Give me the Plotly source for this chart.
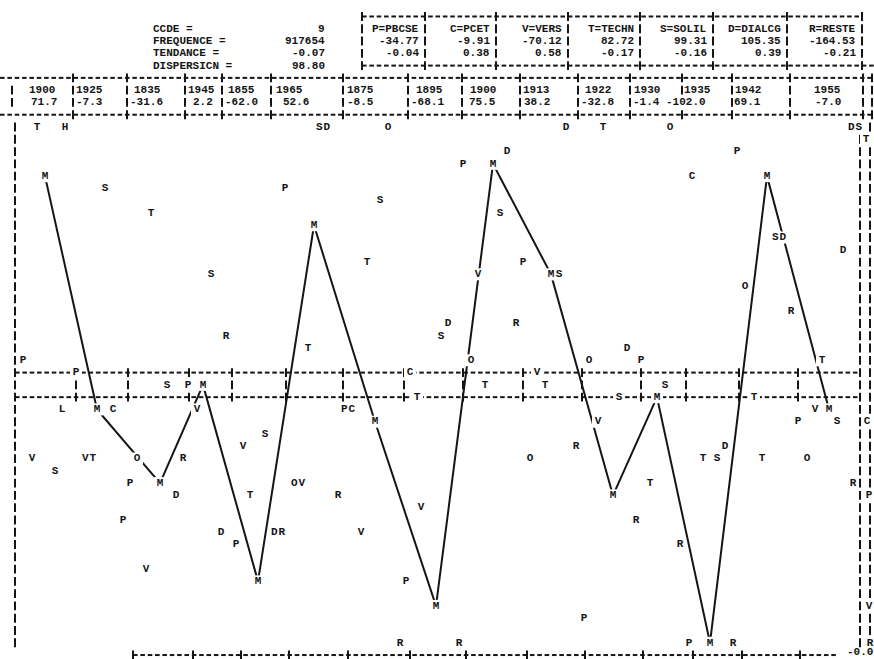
import plotly.graph_objects as go

# ---------------- values ----------------
header_labels = ["CCDE =", "FREQUENCE =", "TENDANCE =", "DISPERSICN ="]
header_values = ["9", "917654", "-0.07", "98.80"]

box_names = ["P=PBCSE", "C=PCET", "V=VERS", "T=TECHN", "S=SOLIL", "D=DIALCG", "R=RESTE"]
box_values = ["-34.77", "-9.91", "-70.12", "82.72", "99.31", "105.35", "-164.53"]
box_tendance = ["-0.04", "0.38", "0.58", "-0.17", "-0.16", "0.39", "-0.21"]

years = ["1900", "1925", "1835", "1945", "1855", "1965", "1875", "1895",
         "1900", "1913", "1922", "1930", "1935", "1942", "1955"]
year_values = [71.7, -7.3, -31.6, 2.2, -62.0, 52.6, -8.5, -68.1,
               75.5, 38.2, -32.8, -1.4, -102.0, 69.1, -7.0]

# M series: print column position and print line of each M
m_pos = [45, 97, 160, 203, 258, 314, 375, 436, 493, 551, 613, 657, 710, 767, 829]
m_rows = [4, 23, 29, 21, 37, 8, 24, 39, 3, 12, 30, 22, 42, 4, 23]

# other letters: text, print column position, print line
letter_text = ["T", "H", "SD", "O", "D", "T", "O", "DS",
               "T",
               "D", "P",
               "P",
               "C",
               "S", "P",
               "S",
               "T", "S",
               "SD",
               "D",
               "T", "P",
               "S", "V", "S",
               "O",
               "R",
               "D", "R",
               "R", "S",
               "T", "D",
               "P", "O", "O", "P", "T",
               "P", "C", "V",
               "S", "P", "T", "T", "S",
               "T", "S", "T",
               "L", "C", "V", "PC", "V",
               "V", "P", "S", "C",
               "S",
               "V", "R", "D",
               "V", "VT", "O", "R", "O", "T", "S", "T", "O",
               "S",
               "P", "OV", "T", "R",
               "D", "T", "R", "P",
               "V",
               "P", "R",
               "D", "DR", "V",
               "P", "R",
               "V",
               "P",
               "V",
               "P",
               "R", "R", "P", "R", "R"]
letter_pos = [37, 65, 323, 388, 566, 603, 670, 855,
              866,
              507, 737,
              463,
              692,
              105, 285,
              380,
              151, 500,
              779,
              843,
              367, 523,
              211, 478, 559,
              745,
              791,
              448, 516,
              226, 441,
              308, 627,
              23, 471, 589, 641, 822,
              76, 410, 537,
              167, 188, 485, 545, 665,
              417, 619, 754,
              62, 113, 197, 348, 815,
              598, 798, 837, 867,
              265,
              243, 576, 725,
              32, 89, 137, 183, 530, 703, 717, 762, 807,
              55,
              130, 298, 650, 853,
              176, 250, 338, 869,
              421,
              123, 636,
              221, 278, 361,
              236, 680,
              146,
              406,
              869,
              584,
              400, 459, 689, 733, 870]
letter_rows = [0, 0, 0, 0, 0, 0, 0, 0,
               1,
               2, 2,
               3,
               4,
               5, 5,
               6,
               7, 7,
               9,
               10,
               11, 11,
               12, 12, 12,
               13,
               15,
               16, 16,
               17, 17,
               18, 18,
               19, 19, 19, 19, 19,
               20, 20, 20,
               21, 21, 21, 21, 21,
               22, 22, 22,
               23, 23, 23, 23, 23,
               24, 24, 24, 24,
               25,
               26, 26, 26,
               27, 27, 27, 27, 27, 27, 27, 27, 27,
               28,
               29, 29, 29, 29,
               30, 30, 30, 30,
               31,
               32, 32,
               33, 33, 33,
               34, 34,
               36,
               37,
               39,
               40,
               42, 42, 42, 42, 42]

# ---------------- layout of the printed frame (print positions) ----------------
box_edges = [362, 425, 496, 568, 640, 713, 787, 862]
year_seps = [12, 73, 127, 185, 222, 271, 343, 408, 462, 520, 578, 630, 682, 732, 790, 863, 872]
year_right = [56, 104, 162, 216, 256, 304, 375, 444, 497, 551, 612, 661, 712, 762, 842]
value_right = [58, 104, 164, 214, 259, 310, 375, 445, 497, 551, 615, 661, 707, 762, 842]
band_ticks = [76, 128, 189, 232, 286, 343, 404, 463, 523, 582, 641, 686, 739, 798]
axis_ticks = [133, 193, 241, 289, 348, 410, 466, 527, 585, 643, 693, 742, 800]

FONT = "Liberation Mono"
INK = "#151515"
PITCH = 7.35
FS = 11

fig = go.Figure()

# dashed horizontal rules made of '-' characters
hx, hy = [], []
def hrule(row, x0, x1):
    x = x0
    while x + 4.5 <= x1:
        hx.extend([x, x + 4.6, None])
        hy.extend([row, row, None])
        x += PITCH

hrule(-9, box_edges[0], box_edges[-1] + 3)
hrule(-5, box_edges[0], 874)
hrule(-4, 0, 874)
hrule(-1, 0, 874)
hrule(20, 15, 860)
hrule(22, 15, 860)
hrule(43, axis_ticks[0], 838)

# vertical rules made of '|' characters
vx, vy = [], []
def vbar(x, r0, r1):
    for r in range(r0, r1 + 1):
        vx.extend([x, x, None])
        vy.extend([r - 0.36, r + 0.36, None])

for e in box_edges:
    vbar(e, -9, -5)
for i, s in enumerate(year_seps):
    if i == 0:
        vbar(s, -3, -2)
    elif s == 682:
        vbar(s, -4, -3)
        vbar(s, -1, -1)
    else:
        vbar(s, -4, -1)
vbar(15, 0, 42)
vbar(860, 1, 42)
vbar(870, 0, 42)
for t in band_ticks:
    vbar(t, 20, 22)
for t in axis_ticks:
    vbar(t, 43, 43)

fig.add_trace(go.Scatter(x=hx, y=hy, mode="lines", line=dict(color=INK, width=2),
                         hoverinfo="skip", showlegend=False))
fig.add_trace(go.Scatter(x=vx, y=vy, mode="lines", line=dict(color=INK, width=2),
                         hoverinfo="skip", showlegend=False))

# the M curve
fig.add_trace(go.Scatter(x=m_pos, y=m_rows, mode="lines", line=dict(color=INK, width=2),
                         hoverinfo="skip", showlegend=False))

# all letters, one character per print position
cx, cy, ct = [], [], []
for s, p, r in zip(letter_text, letter_pos, letter_rows):
    n = len(s)
    for i, ch in enumerate(s):
        cx.append(p + (i - (n - 1) / 2) * PITCH)
        cy.append(r)
        ct.append(ch)
for p, r in zip(m_pos, m_rows):
    cx.append(p)
    cy.append(r)
    ct.append("M")

fig.add_trace(go.Scatter(x=cx, y=cy, mode="markers",
                         marker=dict(symbol="square", size=12, color="white", line=dict(width=0)),
                         hoverinfo="skip", showlegend=False))
fig.add_trace(go.Scatter(x=cx, y=cy, mode="text", text=ct, textposition="middle center",
                         textfont=dict(family=FONT, size=FS, color=INK, weight="bold"),
                         hoverinfo="skip", showlegend=False))

annotations = []
def txt(x, row, s, anchor="right"):
    annotations.append(dict(x=x, y=row, xref="x", yref="y", text=s, showarrow=False,
                            xanchor=anchor, yanchor="middle", borderpad=0,
                            font=dict(family=FONT, size=FS, color=INK, weight="bold")))

for i, (lab, val) in enumerate(zip(header_labels, header_values)):
    txt(152, -8 + i, lab, "left")
    txt(326, -8 + i, val, "right")

for i in range(len(box_names)):
    right = box_edges[i + 1] - 5
    txt(right, -8, box_names[i])
    txt(right, -7, box_values[i])
    txt(right, -6, box_tendance[i])

for i in range(len(years)):
    txt(year_right[i], -3, years[i])
    txt(value_right[i], -2, f"{year_values[i]:.1f}")

txt(874, 42.75, "-0.0")

fig.update_layout(
    width=874, height=659,
    margin=dict(l=0, r=0, t=0, b=0),
    paper_bgcolor="white", plot_bgcolor="white",
    xaxis=dict(range=[0, 874], visible=False, fixedrange=True),
    yaxis=dict(range=[43.322, -10.342], visible=False, fixedrange=True),
    annotations=annotations,
    showlegend=False,
)

fig.write_html("out.html", config={"displayModeBar": False},
               post_script="document.body.style.margin='0px';")
